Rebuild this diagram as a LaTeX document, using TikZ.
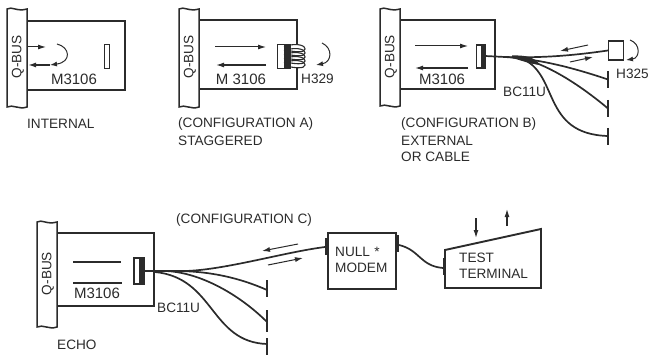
\documentclass[tikz,border=0pt]{standalone}
\usepackage{fontspec}
\setmainfont{Liberation Sans}
\usetikzlibrary{arrows.meta}
\definecolor{ink}{gray}{0.17}
\tikzset{
 x=1pt,y=-1pt,
 every node/.style={font=\fontsize{13.6}{15}\selectfont,text=ink,inner sep=0pt},
 lab/.style={anchor=west},
 ctr/.style={anchor=center,font=\fontsize{15}{17}\selectfont},
 board/.style={draw=ink,line width=1.7pt},
 bus/.style={draw=ink,line width=1.5pt,fill=white},
 sig/.style={draw=ink,line width=1pt,-{Latex[length=8pt,width=5pt]}},
 cable/.style={draw=ink,line width=1.7pt},
 bar/.style={draw=ink,line width=2.4pt},
 plug/.style={draw=ink,line width=1.2pt,fill=white},
 curl/.style={draw=ink,line width=1pt,-{Latex[length=7pt,width=5pt]}},
}
\newcommand{\qbus}[4]{% x, top y, bottom y, name
 \path[bus] (#1,#2) .. controls (#1+5,#2-3) and (#1+10,#2+3) .. (#1+20,#2)
   -- (#1+20,#3) .. controls (#1+12,#3+3) and (#1+6,#3-3) .. (#1,#3) -- cycle;
 \node[rotate=90] (#4) at (#1+11,{(#2+#3)/2-1}) {Q-BUS};
}
\begin{document}
\begin{tikzpicture}
\useasboundingbox (0,0) rectangle (652,355);
% Panel 1
\qbus{7}{9}{107}{qa}
\draw[board] (27,21) -- (125,21) -- (125,90) -- (27,90);
\coordinate (a1) at (27,47); \coordinate (a2) at (46,47);
\coordinate (a3) at (50,65); \coordinate (a4) at (28,65);
\path[sig] (a1) -- (a2);
\path[sig,line width=1.5pt] (a3) -- (a4);
\draw[curl] (57,44) .. controls (70,47) and (72,62) .. (50,65);
\node[plug,minimum width=5pt,minimum height=24pt,draw] (pa) at (107,56.5) {};
\node[ctr] (ma) at (74,79) {M3106};
\node[lab] (ta) at (27,124) {INTERNAL};
% Panel 2
\qbus{179}{9}{107}{qb}
\draw[board] (200,20) -- (297,20) -- (297,44);
\draw[board] (297,68) -- (297,89) -- (200,89);
\coordinate (b1) at (215,47); \coordinate (b2) at (266,47);
\coordinate (b3) at (266,65); \coordinate (b4) at (216,65);
\path[sig] (b1) -- (b2);
\path[sig,line width=1.3pt] (b3) -- (b4);
\node[plug,minimum width=13pt,minimum height=24pt,draw] (pb) at (284,56.5) {};
\fill[ink] (284,45) rectangle (290.5,68);
\foreach \yy in {47,51,55,59,63}{
 \draw[ink,line width=1.1pt] (284,\yy) .. controls (292,\yy-4) and (305,\yy-3) .. (305,\yy+2) .. controls (305,\yy+6) and (294,\yy+5) .. (286,\yy+3);
}
\draw[curl] (322,43) .. controls (333,48) and (332,62) .. (316,65);
\node[ctr] (mb) at (241,79) {M 3106};
\node[lab] (hb) at (301,79) {H329};
\node[lab] (tb) at (178,124) {(CONFIGURATION A)};
\node[lab] (tb2) at (178,141) {STAGGERED};
% Panel 3
\qbus{380}{9}{106}{qc}
\draw[board] (400,20) -- (495,20) -- (495,89) -- (400,89);
\coordinate (c1) at (415,46); \coordinate (c2) at (468,46);
\coordinate (c3) at (468,68); \coordinate (c4) at (415,68);
\path[sig] (c1) -- (c2);
\path[sig,line width=1.3pt] (c3) -- (c4);
\node[plug,minimum width=9pt,minimum height=23pt,draw] (pc) at (481,56.5) {};
\fill[ink] (481,45) rectangle (485.5,68);
\node[ctr] (mc) at (442,79) {M3106};
\coordinate (cs) at (485,56);
\node[draw=ink,line width=1.3pt,minimum width=15pt,minimum height=19pt] (hc) at (616,50.5) {};
\coordinate (e1) at (608,79.5); \coordinate (e2) at (608,108.5); \coordinate (e3) at (608,136);
\draw[bar] (608,71) -- (608,88);
\draw[bar] (608,100) -- (608,117);
\draw[bar] (608,128) -- (608,145);
\draw[cable] (cs) -- (505,57) .. controls (540,58) and (570,56) .. (hc.west);
\draw[cable] (505,57) .. controls (535,59) and (565,65) .. (e1);
\draw[cable] (515,57) .. controls (545,62) and (580,85) .. (e2);
\draw[cable] (520,58) .. controls (560,72) and (540,134) .. (e3);
\fill[ink] (512,55.5) .. controls (525,55) and (535,57) .. (540,65) .. controls (530,64) and (520,60) .. (512,58) -- cycle;
\path[sig] (588,45) -- (560,51);
\path[sig] (570,62) -- (593,57);
\draw[curl] (630,40) .. controls (641,44) and (640,58) .. (626,60);
\node[lab] (bc) at (503,92) {BC11U};
\node[lab] (h5) at (616,74) {H325};
\node[lab] (tc) at (401,124) {(CONFIGURATION B)};
\node[lab] (tc2) at (401,141) {EXTERNAL};
\node[lab] (tc3) at (401,157) {OR CABLE};
% Panel 4
\qbus{37}{222}{327}{qd}
\draw[board] (57,233) -- (154,233) -- (154,306) -- (57,306);
\coordinate (d1) at (73,262); \coordinate (d2) at (121,262);
\coordinate (d3) at (73,283); \coordinate (d4) at (122,283);
\draw[draw=ink,line width=1.2pt] (d1) -- (d2);
\draw[draw=ink,line width=1.2pt] (d3) -- (d4);
\node[ctr] (md) at (97,293) {M3106};
\node[plug,minimum width=10pt,minimum height=26pt,draw] (pd) at (139,271) {};
\fill[ink] (139,258) rectangle (144,284);
\coordinate (ds) at (144,271);
\node[draw=ink,line width=1.9pt,minimum width=68pt,minimum height=56pt] (nm) at (362,261) {};
\node[lab,text width=60pt,align=left] (nt) at (335,260) {NULL *\\[1.5pt]MODEM};
\fill[ink] (325,238) rectangle (328,255);
\fill[ink] (396,235) rectangle (399,252);
\coordinate (nl) at (325,247); \coordinate (nr) at (399,245);
\draw[bar] (267,280) -- (267,297);
\draw[bar] (267,310) -- (267,332);
\draw[bar] (267,338) -- (267,355);
\coordinate (f1) at (267,290); \coordinate (f2) at (267,322); \coordinate (f3) at (267,344);
\draw[cable] (ds) -- (185,271) .. controls (225,270) and (285,252) .. (nl);
\draw[cable] (175,271) .. controls (210,271) and (240,278) .. (f1);
\draw[cable] (165,271) .. controls (200,272) and (240,295) .. (f2);
\draw[cable] (155,272) .. controls (215,278) and (210,342) .. (f3);
\path[sig] (298,244) -- (262,251);
\path[sig] (268,265) -- (303,258);
\draw[cable] (nr) .. controls (420,250) and (420,266) .. (443,268);
\draw[draw=ink,line width=1.9pt,line join=miter] (445,250) -- (541,229) -- (541,288) -- (445,288) -- cycle;
\fill[ink] (442.5,258) rectangle (445,275);
\node[lab] (t1) at (459,258) {TEST};
\node[lab] (t2) at (459,274) {TERMINAL};
\path[sig,line width=1.2pt] (476,218) -- (476,238);
\path[sig,line width=1.2pt] (507,226) -- (507,209);
\node[lab] (cc) at (176,220) {(CONFIGURATION C)};
\node[lab] (bd) at (157,308) {BC11U};
\node[lab] (ec) at (57,345) {ECHO};
\end{tikzpicture}
\end{document}
